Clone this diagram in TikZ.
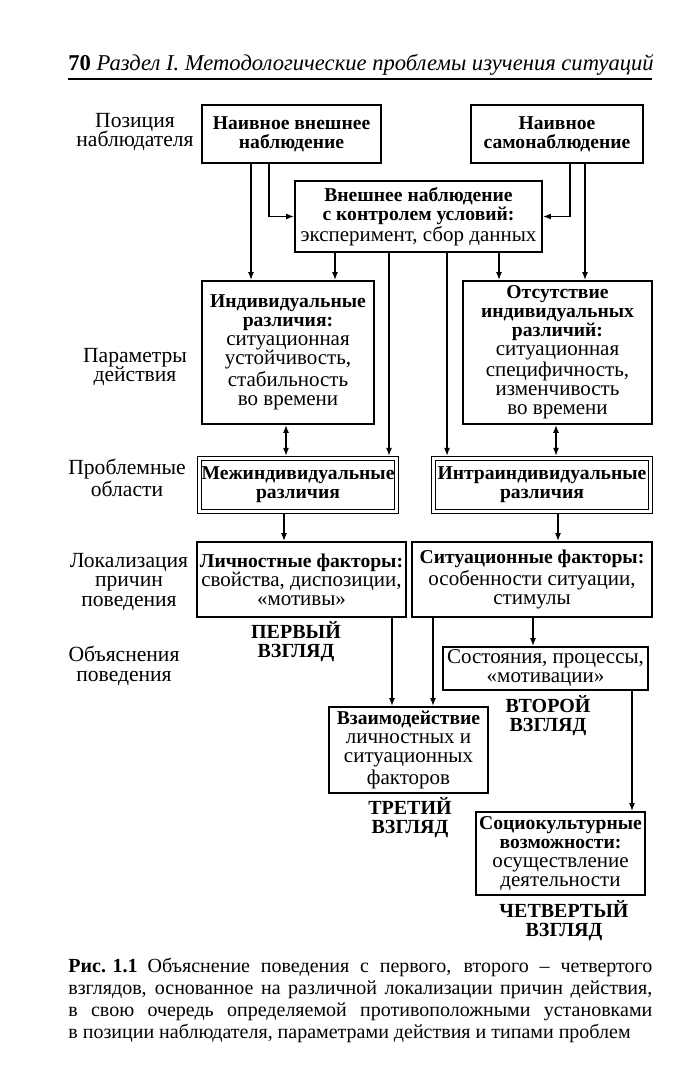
\documentclass[tikz,border=0pt]{standalone}
\usepackage{fontspec}
\setmainfont{Liberation Serif}
\usetikzlibrary{calc}
\usetikzlibrary{arrows.meta}

\newcommand\boxfont{\fontsize{10.5}{9.5}\selectfont}
\newcommand\sidefont{\fontsize{10.8}{9.9}\selectfont}
\newcommand\viewfont{\fontsize{10}{9.5}\selectfont\bfseries}
\newcommand\hd[1]{{\fontsize{9.8}{9.5}\selectfont\bfseries #1}}

\begin{document}
\begin{tikzpicture}[x=0.5pt, y=-0.5pt,
    box/.style={draw, line width=0.9pt, inner sep=0pt, align=center, font=\boxfont},
    dbox/.style={box, double, line width=0.5pt, double distance=1.3pt, outer sep=1.2pt},
    side/.style={align=center, font=\sidefont},
    view/.style={align=center, font=\viewfont},
    arr/.style={-{Latex[length=4pt,width=3pt]}, line width=0.7pt},
    darr/.style={{Latex[length=4pt,width=3pt]}-{Latex[length=4pt,width=3pt]}, line width=0.7pt}]

    \useasboundingbox (0,0) rectangle (690,1085);

    % running head
    \node[anchor=base west, inner sep=0pt, font=\fontsize{11.3}{13}\selectfont] (head) at (68,71)
        {\textbf{70}\ \textit{Раздел I. Методологические проблемы изучения ситуаций}};
    \coordinate (rl) at (68,79);
    \coordinate (rr) at (652,79);
    \draw[line width=0.8pt] (rl) -- (rr);

    % side labels
    \node[side] (lpos) at (135,132) {Позиция\\наблюдателя};
    \node[side] (lpar) at (135,367) {Параметры\\действия};
    \node[side] (lprob) at (127,478) {Проблемные\\области};
    \node[side] (lloc) at (129,582) {Локализация\\причин\\поведения};
    \node[side] (lexp) at (124,666) {Объяснения\\поведения};

    % observer boxes
    \node[box, minimum width=89.5pt, minimum height=29pt] (obsext) at (291.5,134)
        {\hd{Наивное внешнее}\\\hd{наблюдение}};
    \node[box, minimum width=86pt, minimum height=29pt] (obsself) at (557,134)
        {\hd{Наивное}\\\hd{самонаблюдение}};
    \node[box, minimum width=123.5pt, minimum height=35.5pt] (obsctrl) at (418.5,216.5)
        {\hd{Внешнее наблюдение}\\\hd{с контролем условий:}\\эксперимент, сбор данных};

    % parameters of action
    \node[box, minimum width=86pt, minimum height=71.5pt] (indiv) at (288,352.5)
        {\hd{Индивидуальные}\\\hd{различия:}\\ситуационная\\устойчивость,\\стабильность\\во времени};
    \node[box, minimum width=94.5pt, minimum height=71.5pt] (noindiv) at (557.5,352.5)
        {\hd{Отсутствие}\\\hd{индивидуальных}\\\hd{различий:}\\ситуационная\\специфичность,\\изменчивость\\во времени};

    % problem areas
    \node[dbox, minimum width=98.7pt, minimum height=26.7pt] (inter) at (298,485)
        {\hd{Межиндивидуальные}\\\hd{различия}};
    \node[dbox, minimum width=108.7pt, minimum height=26.7pt] (intra) at (542,485)
        {\hd{Интраиндивидуальные}\\\hd{различия}};

    % localisation of causes
    \node[box, minimum width=104.5pt, minimum height=37.5pt] (person) at (301.5,579.5)
        {\hd{Личностные факторы:}\\свойства, диспозиции,\\«мотивы»};
    \node[box, minimum width=120pt, minimum height=37.5pt] (situ) at (532,579.5)
        {\hd{Ситуационные факторы:}\\особенности ситуации,\\стимулы};

    % explanations
    \node[box, minimum width=102.5pt, minimum height=21.5pt] (state) at (545.5,668.5)
        {Состояния, процессы,\\«мотивации»};
    \node[box, minimum width=79.5pt, minimum height=43pt] (interact) at (408.5,750)
        {\hd{Взаимодействие}\\личностных и\\ситуационных\\факторов};
    \node[box, minimum width=84.5pt, minimum height=41.5pt] (socio) at (560.5,853.5)
        {\hd{Социокультурные}\\\hd{возможности:}\\осуществление\\деятельности};

    % view labels
    \node[view] (v1) at (296,642) {ПЕРВЫЙ\\ВЗГЛЯД};
    \node[view] (v2) at (548,716) {ВТОРОЙ\\ВЗГЛЯД};
    \node[view] (v3) at (410,818) {ТРЕТИЙ\\ВЗГЛЯД};
    \node[view] (v4) at (564,921) {ЧЕТВЕРТЫЙ\\ВЗГЛЯД};

    % drop points
    \coordinate (e1) at ($(obsext.south)+(-40.5,0)$);
    \coordinate (e2) at ($(obsext.south)+(-22.5,0)$);
    \coordinate (s1) at ($(obsself.south)+(13,0)$);
    \coordinate (s2) at ($(obsself.south)+(28,0)$);
    \coordinate (c1) at ($(obsctrl.south)+(-83.5,0)$);
    \coordinate (c2) at ($(obsctrl.south)+(-29.5,0)$);
    \coordinate (c3) at ($(obsctrl.south)+(28.5,0)$);
    \coordinate (c4) at ($(obsctrl.south)+(80.5,0)$);
    \coordinate (i1) at ($(indiv.south)+(-2,0)$);
    \coordinate (n1) at ($(noindiv.south)+(-1.5,0)$);
    \coordinate (m1) at ($(inter.south)+(-14,0)$);
    \coordinate (t1) at ($(intra.south)+(16,0)$);
    \coordinate (p1) at ($(person.south)+(90.5,0)$);
    \coordinate (f1) at ($(situ.south)+(-99,0)$);
    \coordinate (f2) at ($(situ.south)+(1,0)$);
    \coordinate (z1) at ($(state.south)+(86.5,0)$);

    % connectors
    \draw[arr] (e1) -- (e1 |- indiv.north);
    \draw[arr] (e2) |- (obsctrl.west);
    \draw[arr] (s1) |- (obsctrl.east);
    \draw[arr] (s2) -- (s2 |- noindiv.north);
    \draw[arr] (c1) -- (c1 |- indiv.north);
    \draw[arr] (c2) -- (c2 |- inter.north);
    \draw[arr] (c3) -- (c3 |- intra.north);
    \draw[arr] (c4) -- (c4 |- noindiv.north);
    \draw[darr] (i1) -- (i1 |- inter.north);
    \draw[darr] (n1) -- (n1 |- intra.north);
    \draw[arr] (m1) -- (m1 |- person.north);
    \draw[arr] (t1) -- (t1 |- situ.north);
    \draw[arr] (p1) -- (p1 |- interact.north);
    \draw[arr] (f1) -- (f1 |- interact.north);
    \draw[arr] (f2) -- (f2 |- state.north);
    \draw[arr] (z1) -- (z1 |- socio.north);

    % caption
    \node[anchor=north west, inner sep=0pt, text width=292pt, align=justify,
          font=\fontsize{10}{11}\selectfont] (cap) at (68,958)
        {\mbox{\textbf{Рис. 1.1}}\enspace Объяснение поведения с первого, второго – четвертого\linebreak
         взглядов, основанное на различной локализации причин действия,\linebreak
         в свою очередь определяемой противоположными установками\linebreak
         в позиции наблюдателя, параметрами действия и типами проблем};
\end{tikzpicture}
\end{document}
